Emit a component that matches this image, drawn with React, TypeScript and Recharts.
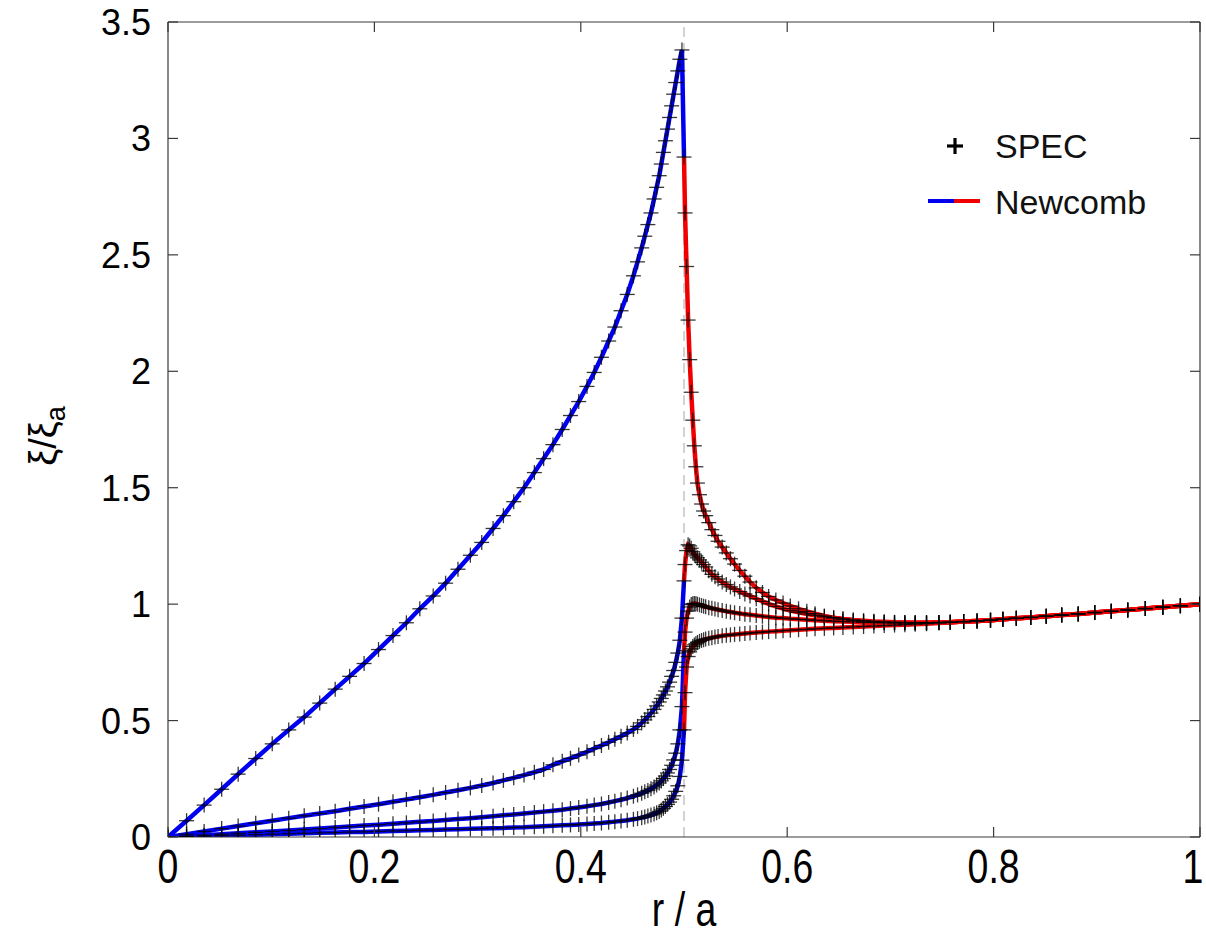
import React from 'react';
import { ComposedChart, Line, Scatter, XAxis, YAxis, ReferenceLine } from 'recharts';

// radial grid of the SPEC points inside the resonant surface (r/a < 0.5)
const innerR = [
  0, 0.018, 0.035, 0.052, 0.068, 0.085, 0.101, 0.117, 0.132, 0.147,
  0.162, 0.176, 0.19, 0.204, 0.218, 0.231, 0.244, 0.257, 0.269, 0.281,
  0.293, 0.304, 0.315, 0.325, 0.335, 0.345, 0.355, 0.364, 0.373, 0.382,
  0.39, 0.398, 0.406, 0.413, 0.42, 0.427, 0.433, 0.439, 0.445, 0.451,
  0.455, 0.459, 0.462, 0.465, 0.468, 0.471, 0.4735, 0.476, 0.478, 0.48,
  0.482, 0.484, 0.486, 0.488, 0.49, 0.492, 0.494, 0.496, 0.498,
];
// radial grid outside the resonant surface (r/a >= 0.5)
const outerR = [
  0.5, 0.501, 0.5025, 0.504, 0.5055, 0.507, 0.5085, 0.51, 0.5115, 0.513,
  0.515, 0.517, 0.519, 0.521, 0.524, 0.527, 0.53, 0.533, 0.537, 0.541,
  0.545, 0.549, 0.554, 0.559, 0.564, 0.57, 0.576, 0.582, 0.589, 0.596,
  0.603, 0.611, 0.619, 0.627, 0.636, 0.645, 0.654, 0.664, 0.674, 0.684,
  0.694, 0.704, 0.714, 0.724, 0.735, 0.747, 0.758, 0.771, 0.784, 0.797,
  0.809, 0.822, 0.836, 0.851, 0.866, 0.882, 0.898, 0.914, 0.93, 0.947,
  0.964, 0.981, 1.0,
];

const curve1Inner = [
  0, 0.07, 0.137, 0.205, 0.27, 0.337, 0.4, 0.46, 0.515, 0.575,
  0.635, 0.69, 0.745, 0.805, 0.865, 0.92, 0.98, 1.035, 1.09, 1.15,
  1.21, 1.265, 1.325, 1.38, 1.44, 1.5, 1.565, 1.625, 1.685, 1.75,
  1.81, 1.87, 1.935, 1.995, 2.06, 2.13, 2.19, 2.26, 2.33, 2.41,
  2.47, 2.53, 2.58, 2.63, 2.68, 2.74, 2.79, 2.84, 2.89, 2.94,
  2.99, 3.04, 3.09, 3.14, 3.19, 3.24, 3.29, 3.34, 3.38,
];
const curve2Inner = [
  0, 0.012, 0.024, 0.036, 0.047, 0.059, 0.07, 0.081, 0.091, 0.101,
  0.111, 0.121, 0.131, 0.141, 0.151, 0.161, 0.171, 0.181, 0.191, 0.201,
  0.211, 0.221, 0.232, 0.243, 0.254, 0.266, 0.278, 0.29, 0.31, 0.325,
  0.338, 0.352, 0.366, 0.38, 0.393, 0.407, 0.42, 0.433, 0.447, 0.462,
  0.475, 0.49, 0.503, 0.517, 0.532, 0.548, 0.563, 0.58, 0.595, 0.61,
  0.627, 0.645, 0.665, 0.69, 0.715, 0.75, 0.79, 0.845, 0.94,
];
const curve3Inner = [
  0, 0.004, 0.008, 0.012, 0.016, 0.02, 0.024, 0.028, 0.032, 0.036,
  0.041, 0.045, 0.049, 0.053, 0.057, 0.061, 0.065, 0.069, 0.073, 0.077,
  0.081, 0.085, 0.089, 0.093, 0.097, 0.101, 0.105, 0.109, 0.113, 0.117,
  0.122, 0.127, 0.132, 0.137, 0.142, 0.148, 0.154, 0.16, 0.167, 0.175,
  0.181, 0.188, 0.194, 0.2, 0.207, 0.215, 0.223, 0.232, 0.241, 0.251,
  0.262, 0.275, 0.29, 0.308, 0.331, 0.36, 0.4, 0.46, 0.56,
];
const curve4Inner = [
  0, 0.002, 0.004, 0.006, 0.008, 0.01, 0.012, 0.014, 0.016, 0.018,
  0.019, 0.021, 0.022, 0.024, 0.026, 0.027, 0.029, 0.03, 0.032, 0.033,
  0.035, 0.036, 0.038, 0.039, 0.041, 0.042, 0.044, 0.046, 0.048, 0.05,
  0.052, 0.054, 0.056, 0.058, 0.06, 0.063, 0.066, 0.069, 0.072, 0.076,
  0.079, 0.083, 0.086, 0.09, 0.094, 0.099, 0.104, 0.11, 0.116, 0.123,
  0.131, 0.14, 0.15, 0.162, 0.177, 0.196, 0.22, 0.26, 0.33,
];

const curve1Outer = [
  2.92, 2.68, 2.45, 2.22, 2.05, 1.91, 1.79, 1.68, 1.59, 1.52,
  1.47, 1.43, 1.4, 1.38, 1.35, 1.32, 1.295, 1.27, 1.245, 1.22,
  1.195, 1.172, 1.145, 1.12, 1.095, 1.07, 1.05, 1.033, 1.018, 1.005,
  0.992, 0.98, 0.969, 0.959, 0.949, 0.942, 0.936, 0.931, 0.927, 0.924,
  0.922, 0.921, 0.92, 0.92, 0.92, 0.921, 0.922, 0.925, 0.928, 0.931,
  0.935, 0.939, 0.943, 0.948, 0.953, 0.958, 0.964, 0.969, 0.975, 0.981,
  0.987, 0.993, 1.0,
];
const curve2Outer = [
  1.1, 1.17, 1.23, 1.255, 1.25, 1.24, 1.225, 1.215, 1.207, 1.199,
  1.19, 1.18, 1.17, 1.16, 1.143, 1.128, 1.118, 1.108, 1.095, 1.084,
  1.074, 1.065, 1.054, 1.044, 1.035, 1.023, 1.012, 1.001, 0.99, 0.981,
  0.972, 0.965, 0.958, 0.952, 0.946, 0.941, 0.936, 0.932, 0.929, 0.926,
  0.924, 0.922, 0.921, 0.92, 0.92, 0.921, 0.922, 0.925, 0.928, 0.931,
  0.935, 0.939, 0.943, 0.948, 0.953, 0.958, 0.964, 0.969, 0.975, 0.981,
  0.987, 0.993, 1.0,
];
const curve3Outer = [
  0.8, 0.88, 0.94, 0.97, 0.988, 0.998, 1.002, 1.003, 1.002, 1.0,
  0.997, 0.994, 0.991, 0.989, 0.985, 0.982, 0.979, 0.976, 0.973, 0.969,
  0.966, 0.963, 0.96, 0.957, 0.954, 0.951, 0.948, 0.945, 0.942, 0.94,
  0.937, 0.935, 0.933, 0.931, 0.929, 0.927, 0.925, 0.924, 0.922, 0.921,
  0.92, 0.919, 0.919, 0.919, 0.92, 0.921, 0.922, 0.925, 0.928, 0.931,
  0.935, 0.939, 0.943, 0.948, 0.953, 0.958, 0.964, 0.969, 0.975, 0.981,
  0.987, 0.993, 1.0,
];
const curve4Outer = [
  0.46, 0.62, 0.73, 0.775, 0.795, 0.808, 0.818, 0.825, 0.83, 0.835,
  0.84, 0.844, 0.847, 0.85, 0.853, 0.856, 0.859, 0.861, 0.864, 0.866,
  0.868, 0.87, 0.872, 0.874, 0.876, 0.878, 0.88, 0.882, 0.884, 0.886,
  0.888, 0.89, 0.892, 0.894, 0.896, 0.898, 0.9, 0.902, 0.904, 0.906,
  0.908, 0.91, 0.912, 0.914, 0.916, 0.919, 0.922, 0.925, 0.928, 0.931,
  0.935, 0.939, 0.943, 0.948, 0.953, 0.958, 0.964, 0.969, 0.975, 0.981,
  0.987, 0.993, 1.0,
];

const xTicks = [0, 0.2, 0.4, 0.6, 0.8, 1];
const xTickLabels = ['0', '0.2', '0.4', '0.6', '0.8', '1'];
const yTicks = [0, 0.5, 1, 1.5, 2, 2.5, 3, 3.5];
const yTickLabels = ['0', '0.5', '1', '1.5', '2', '2.5', '3', '3.5'];

const innerSets = [curve1Inner, curve2Inner, curve3Inner, curve4Inner];
const outerSets = [curve1Outer, curve2Outer, curve3Outer, curve4Outer];

const FONT = '"Liberation Sans", Arial, Helvetica, sans-serif';
const AXIS = '#3a3a3a';
const BLUE = '#0000f0';
const RED = '#f00000';

type Pt = { r: number; v: number };
const pair = (rs: number[], vs: number[]): Pt[] => rs.map((r, i) => ({ r, v: vs[i] }));

const blueData = innerSets.map((vals, k) => pair([...innerR, outerR[0]], [...vals, outerSets[k][0]]));
const redData = outerSets.map((vals) => pair(outerR, vals));
const specData = innerSets.map((vals, k) => [...pair(innerR, vals), ...pair(outerR, outerSets[k])]);

const PlusShape = (props: any) => {
  const { cx, cy } = props;
  if (cx == null || cy == null) return <g />;
  const h = 7.5;
  return (
    <g>
      <line x1={cx - h} x2={cx + h} y1={cy} y2={cy} stroke="rgba(0,0,0,0.78)" strokeWidth={1.3} />
      <line x1={cx} x2={cx} y1={cy - h} y2={cy + h} stroke="rgba(0,0,0,0.78)" strokeWidth={1.3} />
    </g>
  );
};

const BottomTick = (props: any) => {
  const { x, y, payload } = props;
  const idx = xTicks.indexOf(payload.value);
  const label = idx >= 0 ? xTickLabels[idx] : String(payload.value);
  const lx = idx === xTicks.length - 1 ? x - 7 : x;
  return (
    <g>
      <line x1={x} x2={x} y1={y} y2={y - 10} stroke={AXIS} strokeWidth={1.2} />
      <g transform={`translate(${lx},${y + 46}) scale(0.78,1)`}>
        <text x={0} y={0} textAnchor="middle" fontSize={48} fontFamily={FONT} fill="#000">
          {label}
        </text>
      </g>
    </g>
  );
};
const TopTick = (props: any) => {
  const { x, y } = props;
  return <line x1={x} x2={x} y1={y} y2={y + 10} stroke={AXIS} strokeWidth={1.2} />;
};
const LeftTick = (props: any) => {
  const { x, y, payload } = props;
  const idx = yTicks.indexOf(payload.value);
  const label = idx >= 0 ? yTickLabels[idx] : String(payload.value);
  return (
    <g>
      <line x1={x} x2={x + 10} y1={y} y2={y} stroke={AXIS} strokeWidth={1.2} />
      <text x={x - 17} y={y + 13} textAnchor="end" fontSize={36} fontFamily={FONT} fill="#000">
        {label}
      </text>
    </g>
  );
};
const RightTick = (props: any) => {
  const { x, y } = props;
  return <line x1={x} x2={x - 10} y1={y} y2={y} stroke={AXIS} strokeWidth={1.2} />;
};

export default function App() {
  return (
    <div style={{ position: 'absolute', left: 0, top: 0, width: 1206, height: 942, background: '#fff' }}>
      <ComposedChart
        width={1206}
        height={942}
        margin={{ top: 20, right: 0, bottom: 65, left: 108 }}
      >
        <XAxis
          dataKey="r"
          type="number"
          domain={[0, 1]}
          ticks={xTicks}
          interval={0}
          allowDataOverflow
          height={40}
          tickSize={0}
          tickMargin={0}
          tickLine={false}
          axisLine={{ stroke: AXIS, strokeWidth: 1.2 }}
          tick={<BottomTick />}
        />
        <XAxis
          xAxisId="top"
          orientation="top"
          dataKey="r"
          type="number"
          domain={[0, 1]}
          ticks={xTicks}
          interval={0}
          allowDataOverflow
          height={2}
          tickSize={0}
          tickMargin={0}
          tickLine={false}
          axisLine={{ stroke: AXIS, strokeWidth: 1.2 }}
          tick={<TopTick />}
        />
        <YAxis
          dataKey="v"
          type="number"
          domain={[0, 3.5]}
          ticks={yTicks}
          interval={0}
          allowDataOverflow
          width={60}
          tickSize={0}
          tickMargin={0}
          tickLine={false}
          axisLine={{ stroke: AXIS, strokeWidth: 1.2 }}
          tick={<LeftTick />}
        />
        <YAxis
          yAxisId="right"
          orientation="right"
          dataKey="v"
          type="number"
          domain={[0, 3.5]}
          ticks={yTicks}
          interval={0}
          allowDataOverflow
          width={6}
          tickSize={0}
          tickMargin={0}
          tickLine={false}
          axisLine={{ stroke: AXIS, strokeWidth: 1.2 }}
          tick={<RightTick />}
        />
        <ReferenceLine x={0.5} stroke="#c4c4c4" strokeWidth={1.5} strokeDasharray="10 6" ifOverflow="visible" />
        {blueData.map((d, k) => (
          <Line
            key={`b${k}`}
            data={d}
            dataKey="v"
            type="linear"
            stroke={BLUE}
            strokeWidth={4.5}
            dot={false}
            activeDot={false}
            isAnimationActive={false}
          />
        ))}
        {redData.map((d, k) => (
          <Line
            key={`r${k}`}
            data={d}
            dataKey="v"
            type="linear"
            stroke={RED}
            strokeWidth={4.5}
            dot={false}
            activeDot={false}
            isAnimationActive={false}
          />
        ))}
        {specData.map((d, k) => (
          <Scatter
            key={`s${k}`}
            data={d}
            dataKey="v"
            shape={<PlusShape />}
            isAnimationActive={false}
          />
        ))}
      </ComposedChart>
      <svg
        width={1206}
        height={942}
        style={{ position: 'absolute', left: 0, top: 0, pointerEvents: 'none' }}
      >
        {/* legend */}
        <line x1={947} x2={963} y1={146} y2={146} stroke="#000" strokeWidth={3.2} />
        <line x1={955} x2={955} y1={138} y2={154} stroke="#000" strokeWidth={3.2} />
        <text x={995} y={158} fontSize={34} fontFamily={FONT} fill="#111">SPEC</text>
        <line x1={928} x2={954} y1={201} y2={201} stroke={BLUE} strokeWidth={4} />
        <line x1={954} x2={980} y1={201} y2={201} stroke={RED} strokeWidth={4} />
        <text x={995} y={214} fontSize={34} fontFamily={FONT} fill="#111">Newcomb</text>
        {/* axis titles */}
        <g transform="translate(684,926) scale(0.78,1)">
          <text x={0} y={0} textAnchor="middle" fontSize={48} fontFamily={FONT} fill="#000">r / a</text>
        </g>
        <text transform="translate(56,436) rotate(-90)" textAnchor="middle" fontSize={38} fontFamily={FONT} fill="#000">
          ξ/ξ<tspan fontSize={27} dy={9}>a</tspan>
        </text>
      </svg>
    </div>
  );
}
